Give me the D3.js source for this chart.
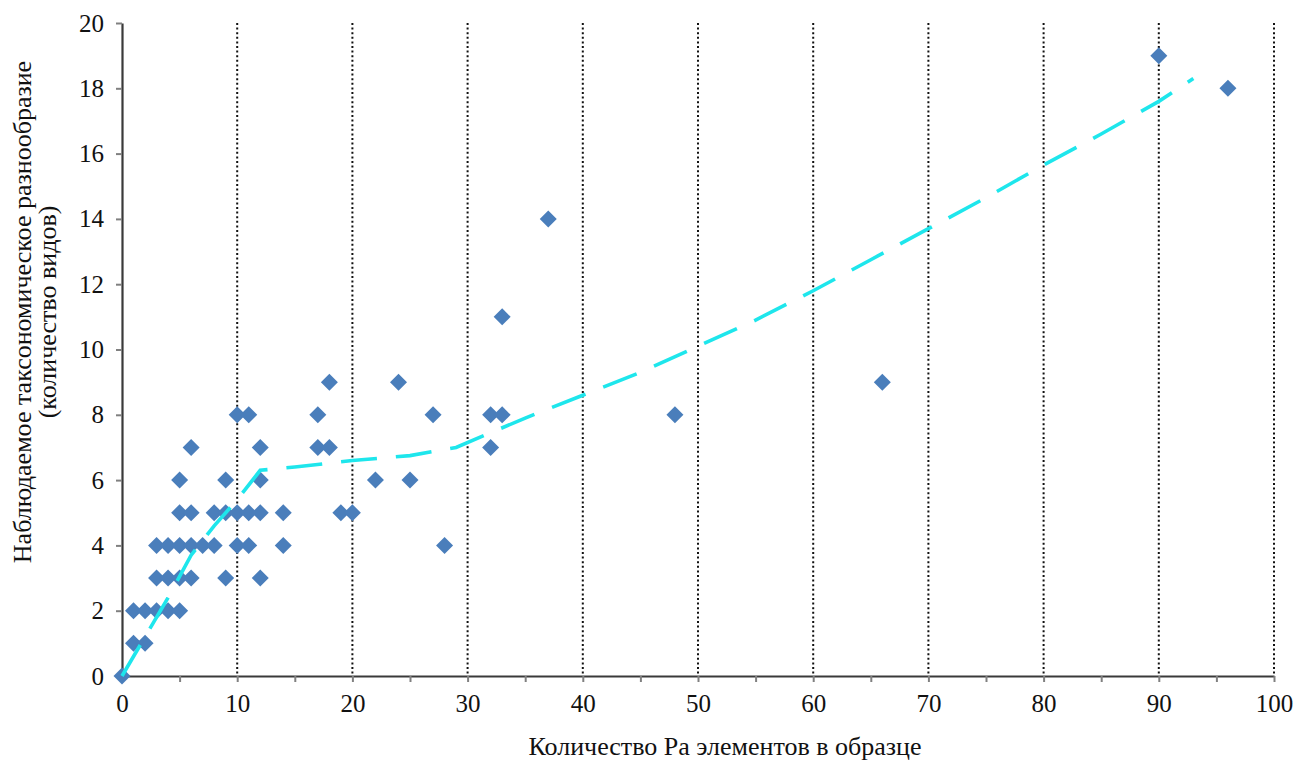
<!DOCTYPE html>
<html>
<head>
<meta charset="utf-8">
<script src="https://cdn.jsdelivr.net/npm/d3@7"></script>
<style>
  body { margin: 0; background: #fff; }
  svg { display: block; font-family: "Liberation Serif", "Times New Roman", serif; }
</style>
</head>
<body>
<svg id="chart" width="1301" height="762"></svg>
<script>
// Ra elements per sample (x) and observed species count (y)
let raCount = [0, 1, 1, 2, 2, 3, 3, 3, 4, 4, 4, 5, 5, 5, 5, 5, 6, 6, 6, 6, 7, 8, 8,
  9, 9, 9, 10, 10, 10, 11, 11, 11, 12, 12, 12, 12, 14, 14, 17, 17, 18, 18, 19, 20,
  22, 24, 25, 27, 28, 32, 32, 33, 33, 37, 48, 66, 90, 96];
let taxaCount = [0, 1, 2, 1, 2, 2, 3, 4, 2, 3, 4, 2, 3, 4, 5, 6, 3, 4, 5, 7, 4, 4, 5,
  3, 5, 6, 4, 5, 8, 4, 5, 8, 3, 5, 6, 7, 4, 5, 7, 8, 7, 9, 5, 5,
  6, 9, 6, 8, 4, 7, 8, 8, 11, 14, 8, 9, 19, 18];

// dashed trend curve
let trendX = [0, 2, 4, 6, 8, 10, 12, 15, 20, 25, 29, 32, 35, 40, 45, 50, 55, 60, 65, 70, 75, 80, 85, 90, 93];
let trendY = [0, 1.2, 2.4, 3.7, 4.6, 5.4, 6.3, 6.4, 6.6, 6.75, 7.0, 7.45, 7.9, 8.6, 9.3, 10.1, 10.9, 11.8, 12.75, 13.7, 14.65, 15.65, 16.6, 17.6, 18.3];

let xLabelTicks = [0, 10, 20, 30, 40, 50, 60, 70, 80, 90, 100];
let xMinorTicks = [5, 15, 25, 35, 45, 55, 65, 75, 85, 95];
let yTicks = [0, 2, 4, 6, 8, 10, 12, 14, 16, 18, 20];
let gridX = [10, 20, 30, 40, 50, 60, 70, 80, 90, 100];

let svg = d3.select("#chart");
let x = d3.scaleLinear().domain([0, 100]).range([122, 1274]);
let y = d3.scaleLinear().domain([0, 20]).range([676, 23]);
let axisColor = "#3a3a3a";

// dotted vertical gridlines
svg.append("g").selectAll("line")
  .data(gridX)
  .enter().append("line")
  .attr("x1", d => x(d)).attr("x2", d => x(d))
  .attr("y1", y(20)).attr("y2", y(0))
  .attr("stroke", "#111").attr("stroke-width", 2)
  .attr("stroke-dasharray", "2,2.6");

// x axis
svg.append("g").attr("transform", `translate(0,${y(0)})`)
  .call(d3.axisBottom(x).tickValues(xLabelTicks).tickSize(6).tickSizeOuter(0).tickPadding(12));
svg.append("g").attr("transform", `translate(0,${y(0)})`)
  .call(d3.axisBottom(x).tickValues(xMinorTicks).tickSize(6).tickSizeOuter(0).tickFormat(""))
  .call(g => g.select(".domain").remove());

// y axis
svg.append("g").attr("transform", `translate(${x(0)},0)`)
  .call(d3.axisLeft(y).tickValues(yTicks).tickSize(6).tickSizeOuter(0).tickPadding(12));

svg.selectAll(".domain").attr("stroke", axisColor).attr("stroke-width", 2.2);
svg.selectAll(".tick line").attr("stroke", "#808080").attr("stroke-width", 2);
svg.selectAll(".tick text")
  .attr("fill", "#111")
  .style("font-family", "'Liberation Serif', 'Times New Roman', serif")
  .style("font-size", "25px");

// points
let pts = d3.zip(raCount, taxaCount);
let r = 8.5;
svg.append("g").selectAll("path")
  .data(pts)
  .enter().append("path")
  .attr("transform", d => `translate(${x(d[0])},${y(d[1])})`)
  .attr("d", `M0,${-r}L${r},0L0,${r}L${-r},0Z`)
  .attr("fill", "#4a7ebb");

// trend line
let line = d3.line().x(d => x(d[0])).y(d => y(d[1]));
svg.append("path")
  .datum(d3.zip(trendX, trendY))
  .attr("d", line)
  .attr("fill", "none")
  .attr("stroke", "#1ee6ec")
  .attr("stroke-width", 3.6)
  .attr("stroke-dasharray", "36,19");

// axis titles
svg.append("text")
  .attr("x", 725).attr("y", 755)
  .attr("text-anchor", "middle")
  .style("font-size", "26px").attr("fill", "#111")
  .text("Количество Ра элементов в образце");

let yTitle = svg.append("text")
  .attr("transform", "translate(0,312) rotate(-90)")
  .attr("text-anchor", "middle")
  .style("font-size", "26px").attr("fill", "#111");
yTitle.append("tspan").attr("x", 0).attr("y", 31).text("Наблюдаемое таксономическое разнообразие");
yTitle.append("tspan").attr("x", 0).attr("y", 56).text("(количество видов)");
</script>
</body>
</html>
